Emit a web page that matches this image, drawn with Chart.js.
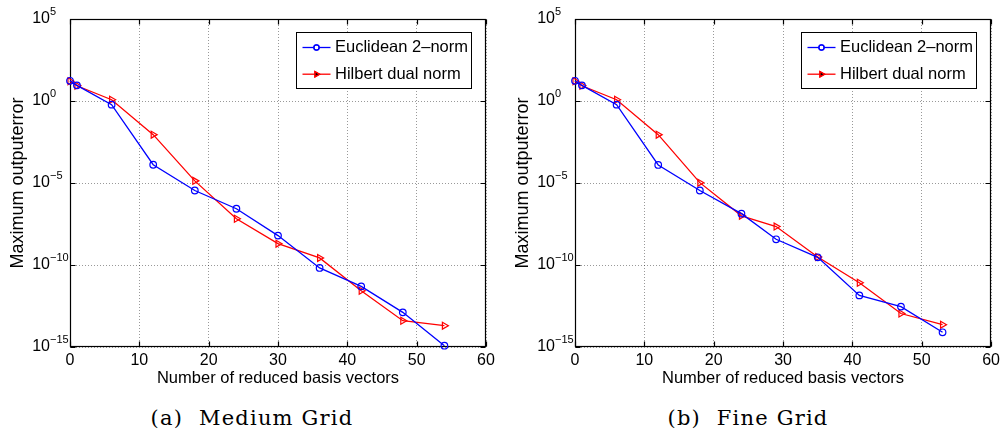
<!DOCTYPE html>
<html>
<head>
<meta charset="utf-8">
<script src="https://cdn.jsdelivr.net/npm/chart.js@4.4.0/dist/chart.umd.min.js"></script>
<style>
body { margin:0; background:#fff; width:1004px; height:437px; position:relative; overflow:hidden; }
canvas { position:absolute; top:0; }
#chartMedium { left:0; }
#chartFine { left:505px; }
.caption { position:absolute; top:405px; font-family:"DejaVu Serif", serif; font-size:21px; line-height:26px; text-align:center; color:#000; letter-spacing:1.2px; }
.caption .gap { margin-left:8px; }
#capA { left:0; width:504px; }
#capB { left:497px; width:502px; }
</style>
</head>
<body>
<canvas id="chartMedium" width="502" height="392"></canvas>
<canvas id="chartFine" width="499" height="392"></canvas>
<div class="caption" id="capA">(a) <span class="gap">Medium Grid</span></div>
<div class="caption" id="capB">(b) <span class="gap">Fine Grid</span></div>
<script>
// valores
var xTicks = [0, 10, 20, 30, 40, 50, 60];
var yTicks = [1e5, 1e0, 1e-5, 1e-10, 1e-15];
var yExp = ['5', '0', '\u22125', '\u221210', '\u221215'];
var seriesNames = ['Euclidean 2\u2013norm', 'Hilbert dual norm'];

var mediumN = [0, 1, 6, 12, 18, 24, 30, 36, 42, 48, 54];
var mediumEuclid = [17, 9, 0.6, 1.3e-4, 3.5e-6, 2.7e-7, 6.2e-9, 6.6e-11, 5e-12, 1.3e-13, 1.2e-15];
var mediumHilbert = [16, 8.5, 1.2, 8.9e-3, 1.35e-5, 6.6e-8, 2e-9, 2.7e-10, 2.7e-12, 4e-14, 2e-14];

var fineN = [0, 1, 6, 12, 18, 24, 29, 35, 41, 47, 53];
var fineEuclid = [17, 9, 0.6, 1.26e-4, 3.5e-6, 1.35e-7, 3.7e-9, 2.95e-10, 1.4e-12, 2.9e-13, 7.9e-15];
var fineHilbert = [16, 8.5, 1.2, 8.9e-3, 1.05e-5, 1.0e-7, 2.2e-8, 3.1e-10, 8.3e-12, 1.1e-13, 2.3e-14];

var FONT = '"Liberation Sans", Arial, sans-serif';
Chart.defaults.font.family = FONT;
Chart.defaults.color = '#000';

// moldura, ticks internos e rotulos 10^n
var framePlugin = {
    id: 'frame',
    beforeDatasetsDraw(chart) {
        const ctx = chart.ctx, a = chart.chartArea, x = chart.scales.x, y = chart.scales.y;
        const L = Math.round(a.left) + 0.5, R = Math.round(a.right) - 0.5;
        const T = Math.round(a.top) + 0.5, B = Math.round(a.bottom) - 0.5;
        ctx.save();
        ctx.strokeStyle = '#000';
        ctx.lineWidth = 1.2;
        ctx.strokeRect(L, T, R - L, B - T);
        ctx.beginPath();
        xTicks.forEach(v => {
            const px = Math.round(x.getPixelForValue(v)) + 0.5;
            ctx.moveTo(px, B); ctx.lineTo(px, B - 5);
            ctx.moveTo(px, T); ctx.lineTo(px, T + 5);
        });
        yTicks.forEach(v => {
            const py = Math.round(y.getPixelForValue(v)) + 0.5;
            ctx.moveTo(L, py); ctx.lineTo(L + 5, py);
            ctx.moveTo(R, py); ctx.lineTo(R - 5, py);
        });
        ctx.stroke();
        ctx.restore();
    },
    afterDraw(chart) {
        const ctx = chart.ctx, a = chart.chartArea, y = chart.scales.y;
        ctx.save();
        ctx.fillStyle = '#000';
        ctx.textBaseline = 'middle';
        yTicks.forEach((v, i) => {
            const py = y.getPixelForValue(v);
            ctx.font = '16px ' + FONT;
            ctx.textAlign = 'right';
            ctx.fillText('10', a.left - 20, py);
            ctx.font = '11px ' + FONT;
            ctx.textAlign = 'left';
            ctx.fillText(yExp[i], a.left - 20, py - 7);
        });
        ctx.restore();
    }
};

// legenda dentro do grafico
var legendPlugin = {
    id: 'boxLegend',
    afterDraw(chart) {
        const ctx = chart.ctx, a = chart.chartArea;
        const w = 175, h = 56;
        const bx = Math.round(a.right - 15 - w) + 0.5, by = Math.round(a.top + 13) + 0.5;
        ctx.save();
        ctx.fillStyle = '#fff';
        ctx.fillRect(bx, by, w, h);
        ctx.strokeStyle = '#000';
        ctx.lineWidth = 1;
        ctx.strokeRect(bx, by, w, h);
        chart.data.datasets.forEach((ds, i) => {
            const ry = by + 15 + i * 26.7;
            ctx.strokeStyle = ds.borderColor;
            ctx.lineWidth = 1.3;
            ctx.beginPath();
            ctx.moveTo(bx + 6, ry); ctx.lineTo(bx + 34, ry);
            ctx.stroke();
            ctx.lineWidth = 1.2;
            Chart.helpers.drawPoint(ctx, {
                pointStyle: ds.pointStyle, rotation: ds.pointRotation || 0,
                radius: i === 0 ? 2.6 : 3.2, borderWidth: 1.2
            }, bx + 20, ry);
            ctx.stroke();
            ctx.fillStyle = '#000';
            ctx.font = '16.5px ' + FONT;
            ctx.textAlign = 'left';
            ctx.textBaseline = 'middle';
            ctx.fillText(ds.label, bx + 38.5, ry);
        });
        ctx.restore();
    }
};

function makeChart(id, n, euclid, hilbert, padRight) {
    return new Chart(document.getElementById(id), {
        type: 'line',
        data: {
            datasets: [{
                label: seriesNames[0],
                data: n.map((v, i) => ({x: v, y: euclid[i]})),
                borderColor: '#0000ff',
                backgroundColor: 'rgba(0,0,0,0)',
                borderWidth: 1.3,
                pointStyle: 'circle',
                pointRadius: 3.3,
                pointBorderWidth: 1.2,
                pointBorderColor: '#0000ff',
                pointBackgroundColor: 'rgba(0,0,0,0)',
                tension: 0,
                clip: false
            }, {
                label: seriesNames[1],
                data: n.map((v, i) => ({x: v, y: hilbert[i]})),
                borderColor: '#ff0000',
                backgroundColor: 'rgba(0,0,0,0)',
                borderWidth: 1.3,
                pointStyle: 'triangle',
                pointRotation: 90,
                pointRadius: 4,
                pointBorderWidth: 1.2,
                pointBorderColor: '#ff0000',
                pointBackgroundColor: 'rgba(0,0,0,0)',
                tension: 0,
                clip: false
            }]
        },
        options: {
            responsive: false,
            animation: false,
            devicePixelRatio: 1,
            layout: { padding: { top: 19, right: padRight, left: 0, bottom: 0 } },
            plugins: { legend: { display: false }, tooltip: { enabled: false } },
            scales: {
                x: {
                    type: 'linear', min: 0, max: 60,
                    afterBuildTicks: s => { s.ticks = xTicks.map(v => ({value: v})); },
                    afterFit: s => { s.height = 45; },
                    grid: { color: 'rgba(0,0,0,0.4)', drawTicks: false },
                    border: { display: false, dash: [1, 2] },
                    ticks: { color: '#000', font: { size: 16 }, padding: 4, maxRotation: 0 },
                    title: { display: true, text: 'Number of reduced basis vectors', color: '#000',
                             font: { size: 16.5 }, padding: { top: 0, bottom: 3.6 } }
                },
                y: {
                    type: 'logarithmic', min: 1e-15, max: 1e5,
                    afterBuildTicks: s => { s.ticks = yTicks.map(v => ({value: v, major: true})); },
                    afterFit: s => { s.width = 70; },
                    grid: { color: 'rgba(0,0,0,0.4)', drawTicks: false },
                    border: { display: false, dash: [1, 2] },
                    ticks: { display: false },
                    title: { display: true, text: 'Maximum outputerror', color: '#000',
                             font: { size: 18 }, padding: { top: 7, bottom: 0 } }
                }
            }
        },
        plugins: [framePlugin, legendPlugin]
    });
}

makeChart('chartMedium', mediumN, mediumEuclid, mediumHilbert, 16);
makeChart('chartFine', fineN, fineEuclid, fineHilbert, 12.3);
</script>
</body>
</html>
